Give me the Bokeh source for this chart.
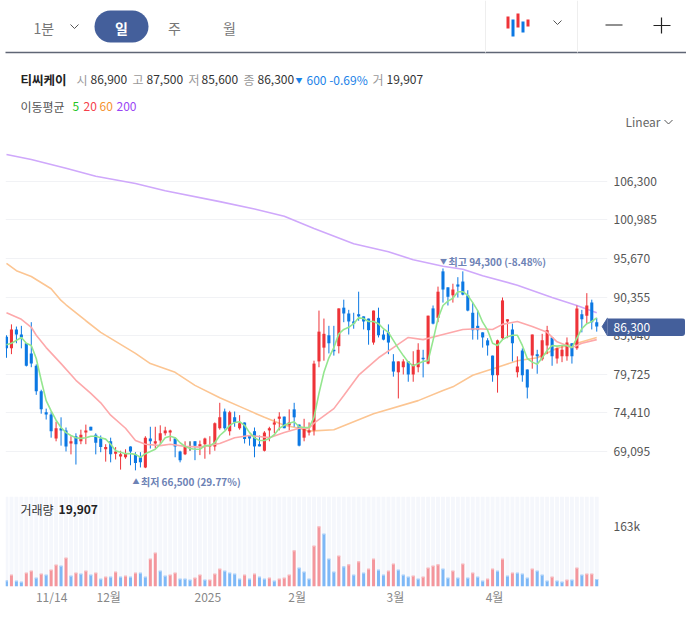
from bokeh.embed import file_html
from bokeh.layouts import column
from bokeh.models import (ColumnDataSource, FixedTicker, Label, LinearAxis, Range1d)
from bokeh.plotting import figure
from bokeh.resources import INLINE

FONT = "Noto Sans CJK KR"

price_ticks = [106300, 100985, 95670, 90355, 85040, 79725, 74410, 69095]
date_tick_pos = [9.1, 20.6, 40.6, 58.6, 78.4, 98.4]
date_tick_labels = ["11/14", "12월", "2025", "2월", "3월", "4월"]
volume_tick = 163000
volume_tick_label = "163k"

open_ = [84900, 83300, 85900, 85200, 84000, 82600, 80900, 77400, 74500, 74200,
         70900, 72300, 72000, 70200, 71200, 70500, 71700, 72500, 71400, 70900,
         69400, 70500, 68800, 68400, 68300, 69800, 68700, 68300, 66900, 70900,
         70200, 70600, 71600, 71700, 70900, 69100, 68700, 69700, 70500, 69800,
         70100, 69700, 69800, 72300, 74600, 71900, 73800, 72300, 73100, 71300,
         71900, 70100, 69200, 72000, 72800, 73600, 73900, 72700, 74900, 72800,
         71000, 71700, 72000, 81500, 83400, 85100, 83100, 83600, 88900, 88100,
         87000, 88000, 87700, 87400, 84100, 87500, 85200, 85500, 81500, 80000,
         80700, 81500, 79700, 80700, 82000, 81200, 88800, 87500, 93900, 91700,
         90600, 92100, 92500, 90600, 88200, 86400, 85500, 84400, 82300, 79600,
         84700, 87000, 85900, 80000, 83000, 80400, 82300, 82500, 81800, 83700,
         84800, 81900, 82200, 82200, 84000, 83300, 88000, 87800, 89600, 86900]
high = [85100, 86600, 86300, 86400, 84000, 86900, 81100, 77600, 75000, 74600,
        73200, 73800, 72400, 71200, 71600, 72100, 72800, 72500, 71600, 71300,
        70100, 71000, 69700, 69200, 69400, 69800, 69000, 69000, 71200, 72500,
        72500, 72700, 72500, 72100, 70900, 69200, 70500, 70500, 70500, 70600,
        71000, 71200, 73100, 75800, 75000, 74700, 74600, 74100, 73100, 71300,
        72400, 71300, 71900, 72500, 73600, 74500, 73900, 74900, 75800, 72800,
        73600, 73100, 81600, 88500, 87400, 86400, 86400, 88800, 90000, 88600,
        88200, 91100, 87700, 87400, 88500, 88900, 85800, 86600, 82500, 81500,
        81800, 81500, 82900, 84000, 83100, 87800, 89200, 91800, 94300, 91700,
        92200, 93100, 93900, 91300, 89600, 88500, 85500, 84700, 82300, 84500,
        90300, 87300, 86700, 82200, 83300, 80400, 85200, 83100, 85300, 86400,
        84800, 83400, 83700, 84800, 84000, 89200, 88600, 90900, 90000, 87500]
low = [82000, 82500, 84000, 83300, 80800, 80700, 76900, 74300, 73500, 71000,
       70500, 69900, 69100, 68700, 67300, 70100, 70100, 72000, 68700, 69000,
       67700, 67600, 68000, 66600, 68100, 67200, 66500, 66900, 66800, 69500,
       69500, 70100, 71300, 70500, 68300, 67600, 68600, 69200, 67900, 68600,
       68100, 68700, 69200, 72100, 72100, 71300, 72500, 72100, 70200, 69900,
       68300, 69800, 69100, 70500, 71600, 72000, 72300, 72000, 72500, 69800,
       70500, 71300, 71300, 80700, 81600, 82600, 82300, 82600, 86900, 85200,
       86000, 87100, 85900, 83800, 83800, 84800, 84400, 82500, 79400, 76400,
       79700, 78700, 78700, 80000, 79300, 81100, 86600, 86900, 89600, 89200,
       89600, 90300, 90600, 88400, 84500, 84500, 83400, 82300, 78700, 77200,
       84500, 84700, 81500, 79300, 78700, 76400, 80500, 79800, 81600, 82500,
       80900, 81200, 81400, 81600, 81200, 83100, 85500, 86700, 85900, 85600]
close = [83300, 85900, 85200, 84800, 80900, 81200, 77400, 74900, 74200, 71900,
         72300, 72000, 69800, 70500, 70100, 71400, 72000, 72000, 70300, 69700,
         69700, 68700, 69100, 68700, 68800, 69100, 67500, 67600, 71000, 70500,
         70500, 71600, 72000, 72000, 69800, 67900, 69700, 69700, 69900, 70100,
         70900, 69800, 73000, 73800, 72300, 74500, 73100, 73000, 70800, 70900,
         69800, 69800, 71700, 72300, 73100, 73900, 72300, 73100, 73800, 69900,
         72300, 72000, 81200, 85600, 85300, 84000, 82900, 88800, 88100, 87000,
         86700, 87700, 87000, 85800, 88500, 85100, 84500, 84100, 80100, 81500,
         81500, 79700, 81100, 83100, 81800, 87800, 86700, 91100, 91400, 90400,
         91400, 91800, 90700, 88500, 85800, 85800, 84800, 83700, 79600, 84400,
         89900, 87300, 84000, 80800, 79600, 77900, 85200, 82200, 84400, 85800,
         82200, 83300, 83100, 84100, 82200, 88800, 87300, 89200, 86900, 86300]

volume = [16000, 31200, 15100, 12500, 36500, 41900, 23200, 33900, 31200, 44600,
          57900, 55200, 76600, 28500, 36500, 33900, 41900, 31200, 36500, 20500,
          25800, 25800, 39200, 25800, 28500, 25800, 36500, 36500, 25800, 74000,
          90000, 41900, 28500, 31200, 36500, 20500, 20500, 17800, 23200, 31200,
          17800, 17800, 33900, 47200, 41900, 36500, 33900, 20500, 31200, 20500,
          33900, 25800, 20500, 23200, 15100, 20500, 23200, 31200, 96200, 49900,
          39200, 20500, 108700, 160400, 140800, 74000, 39200, 82000, 53500, 58800,
          31200, 66800, 36500, 47200, 74000, 44600, 31200, 41900, 60600, 44600,
          31200, 25800, 28500, 20500, 25800, 49900, 55200, 58800, 47200, 23200,
          41900, 23200, 60600, 23200, 36500, 25800, 15100, 20500, 47200, 41900,
          74000, 28500, 36500, 36500, 33900, 23200, 47200, 41900, 31200, 15100,
          25800, 15100, 12500, 17800, 17800, 49900, 31200, 33900, 33900, 19907]
volume_up = "BRBBRRBRBRRBRBRBRBRBRBRBRBRBBRRBBRRBBBRRBRRRBBBBRBRBBRBRRRRBBBRRBBBRBRBRBRRBBRRBBBRBRRRRBBRBRBRBBRRBRBRBBBRBBBRBBRBRBRRB"

ma5 = [83800, 84000, 84400, 84800, 84000, 83700, 81900, 78900, 76100, 74700,
       73400, 72400, 71700, 71300, 71000, 70900, 71000, 71200, 71200, 71000,
       70800, 70100, 69200, 69000, 68800, 68800, 68700, 68300, 68800, 69100,
       69400, 70100, 71000, 71200, 71000, 70300, 69800, 69500, 69400, 69400,
       69900, 69900, 70300, 71300, 71900, 72700, 73100, 73200, 72700, 71700,
       71000, 70600, 70600, 70900, 71400, 72300, 72700, 73000, 73200, 72500,
       72400, 72400, 73800, 77100, 80000, 82000, 83400, 85300, 85900, 86200,
       86700, 87500, 87400, 87000, 87000, 86700, 86000, 85500, 84400, 83300,
       82300, 81400, 80900, 81200, 81500, 81600, 84400, 87400, 89200, 89800,
       90200, 91100, 91100, 90600, 89600, 88500, 86900, 85800, 84000, 83700,
       84500, 84900, 85100, 85100, 83700, 81900, 81400, 81100, 82000, 83000,
       83700, 83600, 83700, 83700, 83400, 84700, 86000, 86700, 87000, 87500]
ma20_idx = [0, 3, 5, 6, 8, 11, 14, 17, 19, 21, 24, 26, 28, 31, 33, 36, 39, 43, 46, 49, 53, 56,
            59, 61, 62, 66, 68, 71, 75, 78, 81, 84, 88, 92, 95, 98, 100, 103, 106, 109, 111, 114, 116, 119]
ma20 = [88200, 87300, 86200, 85100, 83400, 81200, 78900, 77100, 75800, 74100, 72300, 70600, 70100, 69900,
        70100, 69800, 69700, 70200, 71000, 71300, 71000, 71700, 72300, 72300, 73000, 75000, 76800, 79600,
        82000, 83400, 84800, 84500, 85200, 85900, 86000, 85900, 86600, 87000, 86300, 85500, 84200, 83400,
        84000, 84500]
ma60_idx = [0, 2, 5, 9, 11, 12, 16, 19, 26, 29, 34, 38, 43, 48, 52, 56, 59, 61, 66, 74, 83, 88, 90,
            94, 99, 103, 107, 111, 115, 119]
ma60 = [95000, 94000, 93200, 91500, 89900, 89300, 87100, 85500, 82600, 81200, 80000, 78200, 76500, 75000,
        73800, 72700, 72300, 71900, 72100, 74300, 76100, 77500, 78000, 79600, 80700, 81600, 82000, 83300,
        84000, 84800]
ma200_idx = [0, 5, 12, 18, 26, 32, 43, 50, 56, 62, 70, 77, 82, 88, 92, 96, 103, 110, 115, 119]
ma200 = [110000, 109300, 108100, 107000, 106000, 105000, 103500, 102500, 101500, 99800, 97700, 96600, 95500,
         94600, 94200, 93300, 92000, 90300, 89200, 88200]

UP, DOWN, FLAT = "#ee3338", "#0b78e3", "#111111"
TAG = "#445f9b"
index = list(range(len(close)))
candle_color = [UP if c > o else DOWN if c < o else FLAT for o, c in zip(open_, close)]
candles = ColumnDataSource(dict(
    i=index, high=high, low=low, color=candle_color,
    top=[max(o, c) for o, c in zip(open_, close)],
    bottom=[min(o, c) for o, c in zip(open_, close)]))
VOL_PX = 2670  # one pixel of the volume scale
vol_src = ColumnDataSource(dict(
    i=index, v=volume, cap=[v - VOL_PX for v in volume],
    color=["#f4969c" if f == "R" else "#7eb8f6" for f in volume_up],
    cap_color=["#f9bcc0" if f == "R" else "#b3d5fa" for f in volume_up]))

# ---- header strip (its range is the strip's own pixel grid)
head = figure(width=686, height=130, x_range=Range1d(0, 686), y_range=Range1d(130, 0),
              toolbar_location=None, output_backend="svg", min_border=0,
              outline_line_color=None, x_axis_location=None, y_axis_location=None)
head.grid.visible = False


def txt(fig, x, y, s, color="#333333", size=12, bold=False, align="left"):
    fig.add_layout(Label(x=x, y=y, text=s, text_color=color, text_font=FONT,
                         text_font_size=f"{size}px", text_font_style="bold" if bold else "normal",
                         text_baseline="middle", text_align=align))


def chevron(fig, cx, cy):
    fig.line([cx - 4, cx, cx + 4], [cy - 2, cy + 2, cy - 2], line_color="#555555", line_width=1)


head.line([5, 686], [52, 52], line_color="#5f6675", line_width=1.3)
head.line([485, 485], [0, 52], line_color="#eeeeee", line_width=1)
head.line([577, 577], [0, 52], line_color="#eeeeee", line_width=1)
head.quad(left=[94], right=[148], top=[10], bottom=[42], fill_color=TAG, line_color=None, border_radius=16)
txt(head, 33, 27, "1분", "#777777", 14)
chevron(head, 74, 26)
txt(head, 121, 27, "일", "#ffffff", 14, True, "center")
txt(head, 174, 27, "주", "#777777", 14, False, "center")
txt(head, 229, 27, "월", "#777777", 14, False, "center")
head.quad(left=[506, 516, 526], right=[509, 519, 529], top=[16, 13, 19], bottom=[28, 27, 26],
          fill_color=UP, line_color=None)
head.quad(left=[511, 521], right=[514, 524], top=[19, 21], bottom=[36, 32], fill_color=DOWN, line_color=None)
chevron(head, 557, 22)
head.line([605, 622], [24.5, 24.5], line_color="#222222", line_width=1.2)
head.line([653, 670], [25, 25], line_color="#222222", line_width=1.2)
head.line([661, 661], [17, 33], line_color="#222222", line_width=1.2)

txt(head, 20, 79, "티씨케이", "#222222", 12.5, True)
for x, s in [(76, "시"), (132, "고"), (188, "저"), (243, "종"), (372, "거")]:
    txt(head, x, 79, s, "#999999", 12)
for x, s in [(90, "86,900"), (146, "87,500"), (201, "85,600"), (257, "86,300"), (386, "19,907")]:
    txt(head, x, 79, s, "#333333", 12)
txt(head, 295, 79, "▼", "#1a82e8", 7)
txt(head, 306, 79, "600 -0.69%", "#1a82e8", 12)
txt(head, 20, 105.5, "이동평균", "#555555", 12)
txt(head, 72, 105.5, "5", "#22c522", 12)
txt(head, 83, 105.5, "20", "#f5404a", 12)
txt(head, 99, 105.5, "60", "#f5922e", 12)
txt(head, 116, 105.5, "200", "#9a45f5", 12)
txt(head, 625, 120.5, "Linear", "#666666", 12)
chevron(head, 668, 121.5)

# ---- price panel
X_END = 121.17
price = figure(width=686, height=360, toolbar_location=None, output_backend="svg",
               x_range=Range1d(-0.2, X_END), y_range=Range1d(63725, 113297),
               min_border_left=5, min_border_right=79, min_border_top=0, min_border_bottom=0,
               outline_line_color=None, x_axis_location=None, y_axis_location=None)
price.xgrid.visible = False
ax = LinearAxis(ticker=FixedTicker(ticks=price_ticks), axis_line_color=None, major_tick_line_color=None,
                minor_tick_line_color=None, major_tick_out=0, major_label_standoff=6,
                major_label_text_color="#555555",
                major_label_text_font=FONT, major_label_text_font_size="12px",
                major_label_overrides={t: f"{t:,}" for t in price_ticks})
price.add_layout(ax, "right")
price.ygrid.ticker = FixedTicker(ticks=price_ticks)
price.ygrid.grid_line_color = "#f1f2f5"
price.ygrid.grid_line_width = 1

price.line(ma200_idx, ma200, line_color="#cfa8fb", line_width=1.6)
price.line(ma60_idx, ma60, line_color="#fcc592", line_width=1.6)
price.segment("i", "high", "i", "low", source=candles, line_color="color", line_width=1)
price.vbar("i", 0.62, "top", "bottom", source=candles, fill_color="color", line_color=None)
price.line(ma20_idx, ma20, line_color="#fda8aa", line_width=1.6)
price.line(index, ma5, line_color="#94e68f", line_width=1.6)

hi_i = high.index(max(high))
lo_i = low.index(min(low))


def extreme(i, v, y_off, glyph, text, x_off):
    for s, dx, size in ((glyph, x_off, 7), (text, x_off + 8.5, 10)):
        price.add_layout(Label(x=i, y=v, x_offset=dx, y_offset=y_off, text=s, text_color="#6d82b5",
                               text_font=FONT, text_font_size=f"{size}px", text_font_style="bold",
                               text_baseline="middle"))


extreme(hi_i, max(high), 7, "▼", "최고 94,300 (-8.48%)", -3)
extreme(lo_i, min(low), -11, "▲", "최저 66,500 (29.77%)", -3)

price.patch([120.1, 121.2, 121.2], [close[-1], 87500, 85000], fill_color=TAG, line_color=TAG)

# ---- last-price tag, laid over the axis labels
tag = figure(width=78, height=18, toolbar_location=None, output_backend="svg",
             x_range=Range1d(0, 78), y_range=Range1d(0, 18), min_border=0,
             outline_line_color=None, x_axis_location=None, y_axis_location=None,
             background_fill_color=TAG, border_fill_color=TAG,
             styles={"position": "absolute", "left": "607px", "top": "318px", "z-index": "10",
                     "border-radius": "0 3px 3px 0", "overflow": "hidden"})
tag.grid.visible = False
tag.add_layout(Label(x=6, y=9, text=f"{close[-1]:,}", text_color="#ffffff", text_font=FONT,
                     text_font_size="12px", text_baseline="middle"))

# ---- volume panel
vol = figure(width=686, height=127, toolbar_location=None, output_backend="svg",
             x_range=Range1d(-0.2, X_END), y_range=Range1d(0, 240600),
             min_border_left=5, min_border_right=79, min_border_top=6, min_border_bottom=31,
             outline_line_color=None, x_axis_location=None, y_axis_location=None)
vol.grid.visible = False
vol.add_layout(LinearAxis(ticker=FixedTicker(ticks=[volume_tick]), axis_line_color=None,
                          major_tick_line_color=None, minor_tick_line_color=None, major_tick_out=0,
                          major_label_standoff=6,
                          major_label_text_color="#555555", major_label_text_font=FONT,
                          major_label_text_font_size="12px",
                          major_label_overrides={volume_tick: volume_tick_label}), "right")
vol.add_layout(LinearAxis(ticker=FixedTicker(ticks=date_tick_pos), axis_line_color=None,
                          major_tick_line_color=None, minor_tick_line_color=None, major_tick_out=0,
                          major_label_standoff=1,
                          major_label_text_color="#888888", major_label_text_font=FONT,
                          major_label_text_font_size="12px",
                          major_label_overrides=dict(zip(date_tick_pos, date_tick_labels))), "below")
vol.vbar(index, 0.78, vol.y_range.end, 0, fill_color="#f5f7fc", line_color=None)
vol.vbar("i", 0.6, "v", 0, source=vol_src, fill_color="color", line_color=None)
vol.vbar("i", 0.6, "v", "cap", source=vol_src, fill_color="cap_color", line_color=None)
vol.add_layout(Label(x=2.8, y=206000, text="거래량", text_color="#333333",
                     text_font=FONT, text_font_size="12px", text_baseline="middle"))
vol.add_layout(Label(x=10.5, y=206000, text=f"{volume[-1]:,}", text_color="#222222",
                     text_font=FONT, text_font_size="12px", text_font_style="bold", text_baseline="middle"))

body = column(price, vol, spacing=0)
open("out.html", "w").write(file_html([head, body, tag], INLINE))
